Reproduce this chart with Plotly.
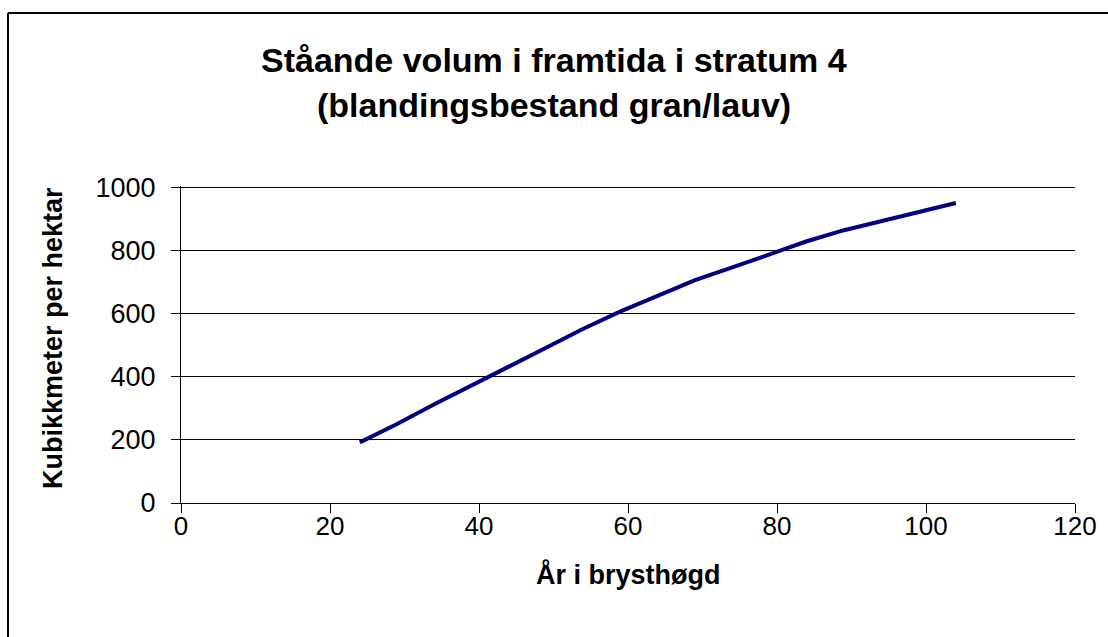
import plotly.graph_objects as go

# data
years = [24, 29, 34, 39, 44, 49, 54, 59, 64, 69, 74, 79, 84, 89, 94, 99, 104]
volume = [192, 250, 313, 374, 432, 492, 552, 607, 658, 706, 746, 787, 829, 864, 893, 922, 950]

title_lines = ["Ståande volum i framtida i stratum 4", "(blandingsbestand gran/lauv)"]
x_title = "År i brysthøgd"
y_title = "Kubikkmeter per hektar"

W, H = 1108, 637
L, R, T, B = 181, 33, 186, 134
pw, ph = W - L - R, H - T - B

FONT = "Liberation Sans, Arial, sans-serif"


def px_x(p):
    return (p - L) / pw


def px_y(p):
    return (H - B - p) / ph


fig = go.Figure()

fig.add_trace(
    go.Scatter(
        x=years,
        y=volume,
        mode="lines",
        line=dict(color="#000080", width=4),
        showlegend=False,
    )
)

fig.update_xaxes(
    range=[0, 120],
    dtick=20,
    showgrid=False,
    zeroline=False,
    showline=True,
    linecolor="black",
    linewidth=1,
    ticks="outside",
    ticklen=9,
    tickcolor="black",
    ticklabelstandoff=-9,
    tickfont=dict(family=FONT, size=26, color="black"),
)

fig.update_yaxes(
    range=[0, 1004],
    tickvals=[0, 200, 400, 600, 800, 1000],
    showgrid=True,
    gridcolor="black",
    gridwidth=1,
    zeroline=False,
    showline=True,
    linecolor="black",
    linewidth=1,
    ticks="outside",
    ticklen=9,
    tickcolor="black",
    ticklabelstandoff=10,
    tickfont=dict(family=FONT, size=27, color="black"),
)

annotations = [
    dict(text=title_lines[0], x=px_x(554), y=px_y(60)),
    dict(text=title_lines[1], x=px_x(554), y=px_y(105)),
]
for a in annotations:
    a.update(xref="paper", yref="paper", showarrow=False, xanchor="center", yanchor="middle",
             font=dict(family=FONT, size=34, color="black"))

annotations.append(dict(
    text=x_title, x=px_x(628), y=px_y(574), xref="paper", yref="paper",
    showarrow=False, xanchor="center", yanchor="middle",
    font=dict(family=FONT, size=27, color="black"),
))
annotations.append(dict(
    text=y_title, x=px_x(53), y=px_y(338), xref="paper", yref="paper",
    showarrow=False, xanchor="center", yanchor="middle", textangle=-90,
    font=dict(family=FONT, size=27, color="black"),
))
for a in annotations:
    a["text"] = "<b>" + a["text"] + "</b>"

# outer chart border: only the top and left edges are visible in the picture
border = dict(type="line", xref="paper", yref="paper", line=dict(color="black", width=2))

fig.update_layout(
    width=W,
    height=H,
    margin=dict(l=L, r=R, t=T, b=B),
    paper_bgcolor="white",
    plot_bgcolor="white",
    annotations=annotations,
    shapes=[
        dict(border, x0=px_x(8), x1=px_x(W + 20), y0=px_y(13), y1=px_y(13)),
        dict(border, x0=px_x(8), x1=px_x(8), y0=px_y(13), y1=px_y(H + 20)),
    ],
)

fig.write_html(
    "out.html",
    config={"displayModeBar": False},
    post_script="document.body.style.margin='0'; document.body.style.overflow='hidden';",
)
